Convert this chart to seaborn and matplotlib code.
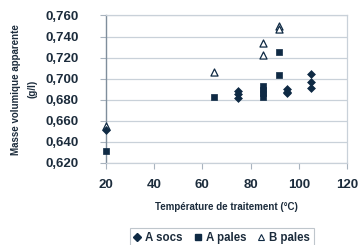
import matplotlib
matplotlib.use("Agg")
import matplotlib.pyplot as plt
import seaborn as sns
import pandas as pd
from matplotlib.lines import Line2D

# Data
a_socs_x = [20, 75, 75, 75, 95, 95, 95, 105, 105, 105]
a_socs_y = [0.651, 0.688, 0.685, 0.682, 0.690, 0.687, 0.686, 0.704, 0.697, 0.691]
a_pales_x = [20, 65, 85, 85, 85, 85, 92, 92]
a_pales_y = [0.631, 0.683, 0.693, 0.689, 0.686, 0.683, 0.725, 0.703]
b_pales_x = [20, 65, 85, 85, 92, 92]
b_pales_y = [0.655, 0.706, 0.734, 0.722, 0.750, 0.747]

xticks = [20, 40, 60, 80, 100, 120]
yticks = [0.620, 0.640, 0.660, 0.680, 0.700, 0.720, 0.740, 0.760]

navy = "#0f2a44"
textc = "#1c2c3c"

sns.set_style("white")
plt.rcParams["font.family"] = ["Liberation Sans", "DejaVu Sans"]

fig = plt.figure(figsize=(3.58, 2.45), dpi=100)
ax = fig.add_axes([0.296, 0.335, 0.673, 0.602])

df_a = pd.DataFrame({"x": a_socs_x, "y": a_socs_y})
df_p = pd.DataFrame({"x": a_pales_x, "y": a_pales_y})
df_b = pd.DataFrame({"x": b_pales_x, "y": b_pales_y})

sns.scatterplot(data=df_b, x="x", y="y", ax=ax, marker="^", s=26,
                facecolor="white", edgecolor=navy, linewidth=0.9, zorder=3,
                clip_on=False)
sns.scatterplot(data=df_a, x="x", y="y", ax=ax, marker="D", s=16,
                color=navy, edgecolor=navy, linewidth=0.5, zorder=4,
                clip_on=False)
sns.scatterplot(data=df_p, x="x", y="y", ax=ax, marker="s", s=22,
                color=navy, edgecolor=navy, linewidth=0.5, zorder=4,
                clip_on=False)

ax.set_xlim(20, 120)
ax.set_ylim(0.620, 0.760)
ax.set_xticks(xticks)
ax.set_yticks(yticks)
ax.set_xticklabels([str(t) for t in xticks])
ax.set_yticklabels([f"{t:.3f}".replace(".", ",") for t in yticks])
ax.grid(axis="y", color="#c9d1d9", linewidth=0.9)
ax.set_axisbelow(True)

for side in ["top", "right"]:
    ax.spines[side].set_visible(True)
    ax.spines[side].set_color("#c9d1d9")
    ax.spines[side].set_linewidth(0.9)
ax.spines["left"].set_color("#7f8e9c")
ax.spines["left"].set_linewidth(1.0)
ax.spines["bottom"].set_color("#c9d1d9")
ax.spines["bottom"].set_linewidth(0.9)

ax.tick_params(axis="both", which="both", direction="out", length=4.5, width=0.8,
               color="#a9b4bf", labelsize=9.5, labelcolor=textc,
               left=True, bottom=True)
ax.tick_params(axis="y", pad=15)
ax.tick_params(axis="x", pad=7)
for lab in ax.get_xticklabels() + ax.get_yticklabels():
    lab.set_fontweight("bold")

ax.set_xlabel("Température de traitement (°C)", fontsize=7, fontweight="bold",
              color=textc, labelpad=8)
ax.set_ylabel("Masse volumique apparente\n(g/l)", fontsize=7, fontweight="bold",
              color=textc, labelpad=6, linespacing=1.75)

handles = [
    Line2D([], [], marker="D", linestyle="none", color=navy, markersize=4),
    Line2D([], [], marker="s", linestyle="none", color=navy, markersize=4.5),
    Line2D([], [], marker="^", linestyle="none", markerfacecolor="white",
           markeredgecolor=navy, markersize=5, markeredgewidth=0.8),
]
leg = fig.legend(handles, ["A socs", "A pales", "B pales"], loc="lower center",
                 bbox_to_anchor=(0.62, -0.035), ncol=3, frameon=True, fancybox=False,
                 fontsize=8.3, handlelength=0.6, handletextpad=0.4, columnspacing=1.0,
                 borderpad=0.35, edgecolor="#b0b8c0")
leg.get_frame().set_linewidth(0.8)
for t in leg.get_texts():
    t.set_fontweight("bold")
    t.set_color(textc)

fig.savefig("out.png", dpi=100)
